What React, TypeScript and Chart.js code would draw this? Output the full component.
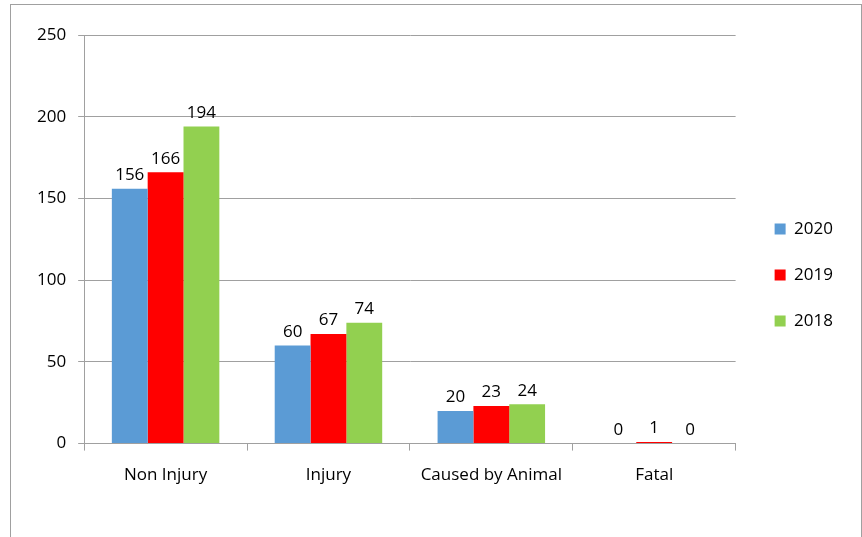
import React, { useEffect, useRef } from "react";
import { Chart, registerables } from "chart.js";

Chart.register(...registerables);

const categories = ["Non Injury", "Injury", "Caused by Animal", "Fatal"];
const series2020 = [156, 60, 20, 0];
const series2019 = [166, 67, 23, 1];
const series2018 = [194, 74, 24, 0];
const seriesLabels = ["2020", "2019", "2018"];
const seriesColors = ["#5B9BD5", "#FF0000", "#92D050"];
const yTicks = [0, 50, 100, 150, 200, 250];

const FONT = "'Open Sans', sans-serif";

const valueLabels = {
  id: "valueLabels",
  afterDatasetsDraw(chart: any) {
    const ctx = chart.ctx;
    ctx.save();
    ctx.font = `17px ${FONT}`;
    ctx.fillStyle = "#000";
    ctx.textAlign = "center";
    ctx.textBaseline = "bottom";
    chart.data.datasets.forEach((ds: any, i: number) => {
      const meta = chart.getDatasetMeta(i);
      meta.data.forEach((bar: any, j: number) => {
        ctx.fillText(String(ds.data[j]), bar.x, bar.y - 5);
      });
    });
    ctx.restore();
  },
};

const legendShift = {
  id: "legendShift",
  afterLayout(chart: any) {
    if (chart.legend) {
      chart.legend.top += 8;
      chart.legend.bottom += 8;
      chart.legend.left += 10;
      chart.legend.right += 10;
    }
  },
};

export default function App() {
  const ref = useRef<HTMLCanvasElement>(null);
  useEffect(() => {
    const chart = new Chart(ref.current!, {
      type: "bar",
      data: {
        labels: categories,
        datasets: [series2020, series2019, series2018].map((d, i) => ({
          label: seriesLabels[i],
          data: d,
          backgroundColor: seriesColors[i],
          borderWidth: 0,
          categoryPercentage: 0.66,
          barPercentage: 1,
        })),
      },
      options: {
        responsive: false,
        animation: false,
        layout: { padding: { left: 25, top: 35, bottom: 38, right: 29 } },
        plugins: {
          tooltip: { enabled: false },
          legend: {
            position: "right",
            labels: {
              boxWidth: 11,
              boxHeight: 11,
              padding: 29,
              color: "#000",
              font: { family: FONT, size: 17 },
            },
          },
        },
        scales: {
          x: {
            grid: {
              display: true,
              drawOnChartArea: false,
              drawTicks: true,
              tickLength: 7,
              color: "#a0a0a0",
              offset: true,
            },
            border: { color: "#a0a0a0" },
            ticks: {
              color: "#000",
              padding: 14,
              font: { family: FONT, size: 17 },
            },
          },
          y: {
            min: 0,
            max: 250,
            afterBuildTicks(scale: any) {
              scale.ticks = yTicks.map((v) => ({ value: v }));
            },
            grid: {
              color: "#a0a0a0",
              drawTicks: true,
              tickLength: 6,
            },
            border: { color: "#a0a0a0" },
            ticks: {
              color: "#000",
              padding: 12,
              font: { family: FONT, size: 17 },
            },
          },
        },
      },
      plugins: [valueLabels, legendShift],
    });
    return () => chart.destroy();
  }, []);
  return (
    <div style={{ position: "absolute", left: 0, top: 0, width: 862, height: 537, overflow: "hidden", background: "#fff" }}>
      <canvas ref={ref} width={862} height={537} style={{ position: "absolute", left: 0, top: 0 }} />
      <div
        style={{
          position: "absolute",
          left: 10,
          top: 4,
          width: 850,
          height: 600,
          border: "1px solid #a0a0a0",
          pointerEvents: "none",
        }}
      />
    </div>
  );
}
